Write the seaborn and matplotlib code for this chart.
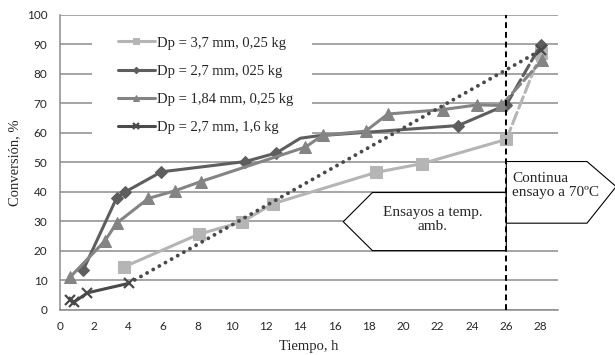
import matplotlib
matplotlib.use("Agg")
import matplotlib.pyplot as plt
import seaborn as sns
from matplotlib.patches import Polygon, Rectangle


# ---------------------------------------------------
# Datos
# ---------------------------------------------------

# Dp = 3,7 mm, 0,25 kg
t_37 = [3.7, 8.1, 10.6, 12.4, 18.4, 21.1, 26.0]
c_37 = [14.5, 25.7, 29.8, 36.0, 46.6, 49.6, 57.8]
t_37_70 = [26.0, 28.0]
c_37_70 = [57.8, 87.0]

# Dp = 2,7 mm, 025 kg
t_27 = [1.35, 3.3, 3.8, 5.9, 10.8, 12.6, 14.0, 15.0, 23.2, 26.0]
c_27 = [13.5, 38.0, 40.0, 46.8, 50.3, 53.2, 58.2, 59.0, 62.5, 69.5]
t_27_70 = [26.0, 28.0]
c_27_70 = [69.5, 89.8]

# Dp = 1,84 mm, 0,25 kg
t_184 = [0.6, 2.6, 3.3, 5.15, 6.7, 8.2, 14.3, 15.3, 17.8, 19.1, 22.3, 24.3, 25.7]
c_184 = [11.2, 23.3, 29.4, 37.8, 40.4, 43.5, 55.2, 59.2, 60.6, 66.4, 67.9, 69.5, 69.3]
t_184_70 = [25.7, 28.1]
c_184_70 = [69.3, 84.7]

# Dp = 2,7 mm, 1,6 kg
t_16 = [0.6, 0.8, 1.6, 4.0]
c_16 = [3.2, 2.6, 5.8, 9.0]
t_16_70 = [4.0, 28.0]
c_16_70 = [9.0, 88.0]

x_ticks = list(range(0, 30, 2))
y_ticks = list(range(0, 110, 10))

labels = [
    "Dp = 3,7 mm, 0,25 kg",
    "Dp = 2,7 mm, 025 kg",
    "Dp = 1,84 mm, 0,25 kg",
    "Dp = 2,7 mm, 1,6 kg",
]

colors = ["#b5b5b5", "#5e5e5e", "#848484", "#4a4a4a"]
GRID = "#8c8c8c"
SERIF = "Liberation Serif"

sns.set_style("white")
plt.rcParams["font.family"] = ["Lato", "DejaVu Sans"]

fig, ax = plt.subplots(figsize=(6.15, 3.55), dpi=100)
fig.subplots_adjust(left=0.0976, right=0.907, bottom=0.127, top=0.958)

lw = 2.2
long_dash = (0, (4, 1.5))
dots = (0, (0.01, 1.8))

# ---------------------------------------------------
# Series
# ---------------------------------------------------

series = [
    (t_37, c_37, t_37_70, c_37_70, "s", 8, None, long_dash, lw),
    (t_27, c_27, t_27_70, c_27_70, "D", 6.5, [0, 1, 2, 3, 4, 5, 8, 9], long_dash, lw),
    (t_184, c_184, t_184_70, c_184_70, "^", 8.5, None, long_dash, lw),
    (t_16, c_16, t_16_70, c_16_70, "x", 7.5, None, dots, 2.8),
]

for i, (t, c, t2, c2, mk, ms, every, ls, lw2) in enumerate(series):
    extra = dict(markeredgewidth=1.6) if mk == "x" else {}
    sns.lineplot(
        x=t2, y=c2, ax=ax, color=colors[i], linewidth=lw2,
        linestyle=ls, dash_capstyle="round", marker=mk, markersize=ms,
        markeredgecolor=colors[i], markevery=[1], sort=False,
        legend=False, zorder=3 + i, **extra
    )
    sns.lineplot(
        x=t, y=c, ax=ax, color=colors[i], linewidth=lw,
        marker=mk, markersize=ms, markeredgecolor=colors[i],
        markevery=every, sort=False, label=labels[i],
        zorder=3 + i, **extra
    )

# línea vertical en 26 h
ax.axvline(26, color="black", linestyle=(0, (3, 2)), linewidth=1.4, zorder=8)

# ---------------------------------------------------
# Flechas de texto
# ---------------------------------------------------

amb = Polygon(
    [(16.5, 29.9), (18.2, 39.8), (26.0, 39.8), (26.0, 20.1), (18.2, 20.1)],
    closed=True, facecolor="white", edgecolor="black", linewidth=0.8,
    zorder=2.5, clip_on=False
)
ax.add_patch(amb)
ax.text(21.7, 30.6, "Ensayos a temp.\namb.", ha="center", va="center",
        family=SERIF, fontsize=11, linespacing=1.1, zorder=9)

cont = Polygon(
    [(26.0, 50.3), (30.7, 50.3), (32.4, 41.8), (30.7, 29.4), (26.0, 29.4)],
    closed=True, facecolor="white", edgecolor="black", linewidth=0.8,
    zorder=2.5, clip_on=False
)
ax.add_patch(cont)
ax.text(26.35, 42.2, "Continua\nensayo a 70ºC", ha="left", va="center",
        family=SERIF, fontsize=11, linespacing=1.1, zorder=9)

# ---------------------------------------------------
# Ejes
# ---------------------------------------------------

ax.set_xlim(0, 29)
ax.set_ylim(0, 100)
ax.set_xticks(x_ticks)
ax.set_yticks(y_ticks)
ax.yaxis.grid(True, color=GRID, linewidth=1.1, zorder=1)
ax.xaxis.grid(False)
ax.set_axisbelow(True)

for side in ["top", "right"]:
    ax.spines[side].set_visible(False)
for side in ["left", "bottom"]:
    ax.spines[side].set_color(GRID)
    ax.spines[side].set_linewidth(1.1)

ax.tick_params(axis="x", direction="out", length=4, width=1, color=GRID,
               labelsize=8.5, labelcolor="#262626", pad=4)
ax.tick_params(axis="y", direction="out", length=3, width=1, color=GRID,
               labelsize=8.5, labelcolor="#262626", pad=6)

ax.set_xlabel("Tiempo, h", family=SERIF, fontsize=10.5, labelpad=6)
ax.set_ylabel("Conversión, %", family=SERIF, fontsize=10.5, labelpad=4)

# fondo blanco de la leyenda (tapa la cuadrícula)
ax.add_patch(Rectangle((0.064, 0.59), 0.442, 0.385, transform=ax.transAxes,
                       facecolor="white", edgecolor="none", zorder=2))

leg = ax.legend(
    loc="upper left", bbox_to_anchor=(0.102, 0.952), borderaxespad=0,
    prop={"family": SERIF, "size": 10.5}, frameon=False,
    handlelength=2.5, handletextpad=0.15, labelspacing=1.03,
    borderpad=0.5, markerscale=0.5
)
leg.set_zorder(10)

plt.savefig("out.png", dpi=100)
